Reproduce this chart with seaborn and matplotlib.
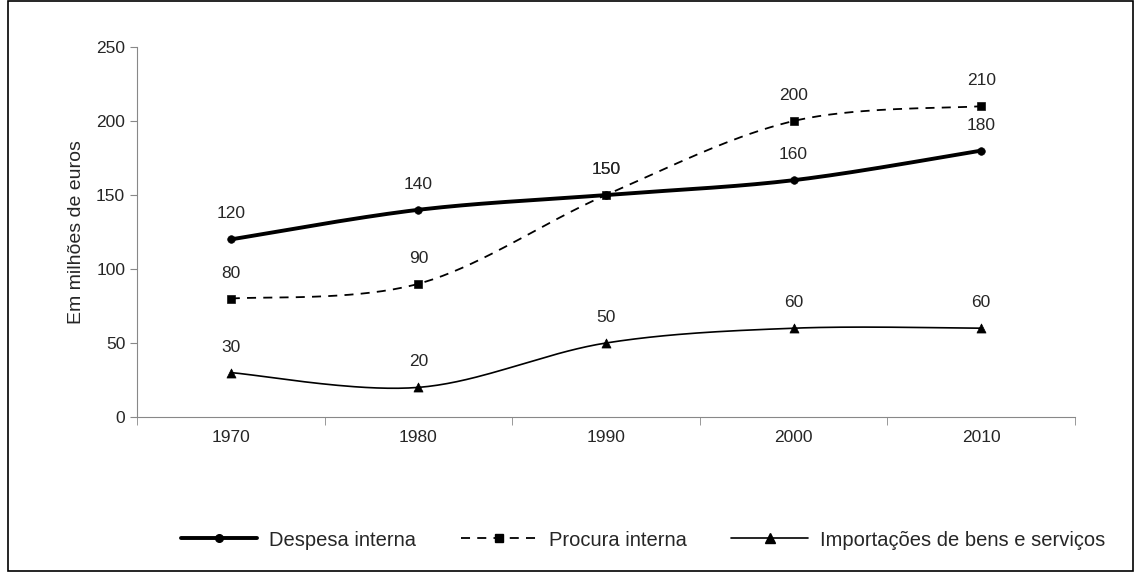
import numpy as np
import matplotlib
matplotlib.use("Agg")
import matplotlib.pyplot as plt
import seaborn as sns
from matplotlib.lines import Line2D

years = ["1970", "1980", "1990", "2000", "2010"]
despesa = [120, 140, 150, 160, 180]
procura = [80, 90, 150, 200, 210]
importacoes = [30, 20, 50, 60, 60]

sns.set_style("white")
plt.rcParams['font.family'] = ['Liberation Sans', 'DejaVu Sans']


def smooth(xs, ys, n=40):
    # Excel-like bezier smoothing, just for drawing the curve
    xs = np.asarray(xs, float)
    ys = np.asarray(ys, float)
    px, py = [], []
    for i in range(len(xs) - 1):
        x0, y0 = xs[max(i - 1, 0)], ys[max(i - 1, 0)]
        x1, y1 = xs[i], ys[i]
        x2, y2 = xs[i + 1], ys[i + 1]
        x3, y3 = xs[min(i + 2, len(xs) - 1)], ys[min(i + 2, len(ys) - 1)]
        c1 = (x1 + (x2 - x0) / 6, y1 + (y2 - y0) / 6)
        c2 = (x2 - (x3 - x1) / 6, y2 - (y3 - y1) / 6)
        t = np.linspace(0, 1, n)
        px.extend((1-t)**3*x1 + 3*(1-t)**2*t*c1[0] + 3*(1-t)*t**2*c2[0] + t**3*x2)
        py.extend((1-t)**3*y1 + 3*(1-t)**2*t*c1[1] + 3*(1-t)*t**2*c2[1] + t**3*y2)
    return px, py


fig = plt.figure(figsize=(11.34, 5.72), dpi=100)
ax = fig.add_axes([137/1134, 155/572, (1075-137)/1134, (417-47)/572])
x = np.arange(len(years))

series = [
    ("Despesa interna", despesa, "-", 2.8, "o", 5.5),
    ("Procura interna", procura, (0, (5, 4)), 1.3, "s", 5.5),
    ("Importações de bens e serviços", importacoes, "-", 1.2, "^", 6.5),
]
handles = []
for name, vals, ls, lw, mk, ms in series:
    sx, sy = smooth(x, vals)
    ax.plot(sx, sy, color="black", linestyle=ls, linewidth=lw)
    sns.scatterplot(x=x, y=vals, marker=mk, s=ms**2, color="black", edgecolor="black", ax=ax, zorder=3)
    for xi, v in zip(x, vals):
        ax.annotate(str(v), (xi, v), xytext=(0, 13), textcoords="offset points",
                    ha="center", va="bottom", fontsize=12.5)
    handles.append(Line2D([], [], color="black", linestyle=ls, linewidth=lw,
                          marker=mk, markersize=ms))

ax.set_xlim(-0.5, 4.5)
ax.set_ylim(0, 250)
ax.set_yticks(range(0, 251, 50))
ax.set_xticks(x)
ax.set_xticklabels(years)
ax.set_xticks(np.arange(-0.5, 4.6, 1), minor=True)
ax.tick_params(axis="x", which="major", length=0, labelsize=12.5, pad=9)
ax.tick_params(axis="x", which="minor", length=6, direction="out", color="#888888", bottom=True)
ax.tick_params(axis="y", length=5, direction="out", labelsize=12.5, left=True, color="#888888")
for s in ["top", "right"]:
    ax.spines[s].set_visible(False)
ax.spines["left"].set_color("#888888")
ax.spines["bottom"].set_color("#888888")
ax.set_ylabel("Em milhões de euros", fontsize=14, labelpad=8)

fig.legend(handles, [s[0] for s in series], loc="center", bbox_to_anchor=(0.567, 1 - 540/572),
           ncol=3, frameon=False, fontsize=14.5, handlelength=3.8, handletextpad=0.6,
           columnspacing=2.2)

fig.patches.append(plt.Rectangle((8/1134, 0.002), 1 - 9/1134, 0.996, transform=fig.transFigure,
                                 fill=False, edgecolor="black", linewidth=1.2))
fig.savefig("out.png", dpi=100)
